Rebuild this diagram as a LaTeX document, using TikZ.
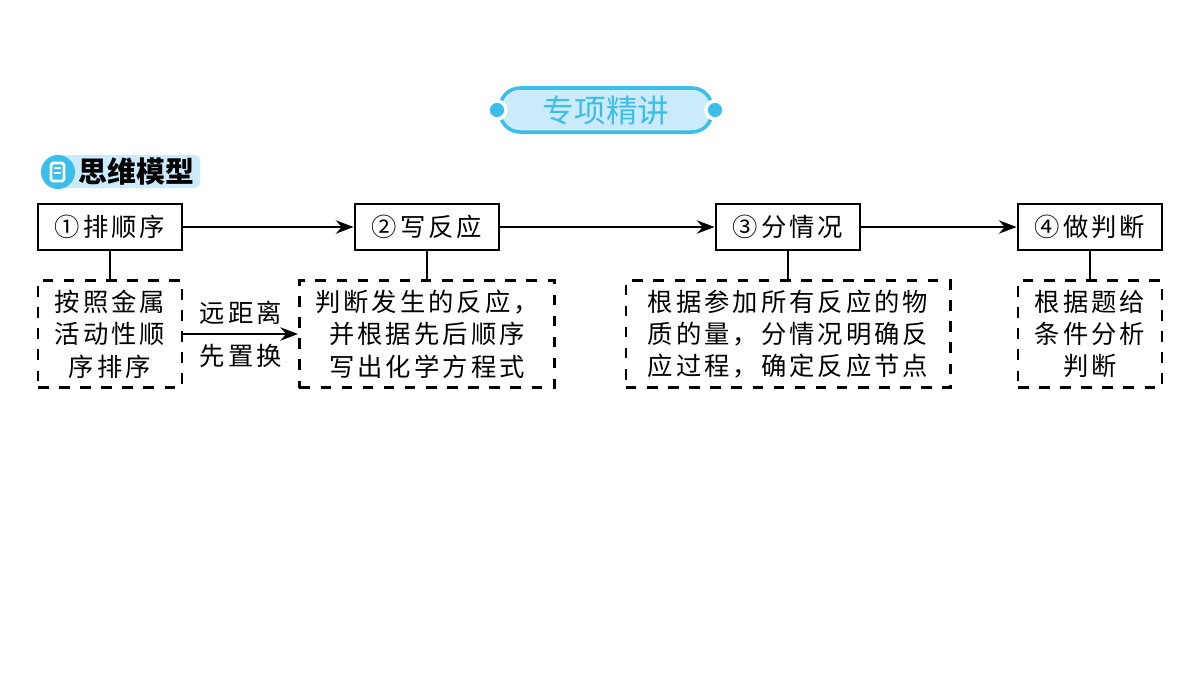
\documentclass[tikz,border=0pt]{standalone}
\usepackage{fontspec}
\setmainfont{Noto Sans CJK SC}
\usetikzlibrary{arrows.meta,positioning,calc}
\definecolor{pale}{HTML}{CCEBFA}
\definecolor{cyanline}{HTML}{3CBEEB}
\begin{document}
\begin{tikzpicture}[x=0.01cm, y=-0.01cm, font=\fontsize{7.2pt}{9.2pt}\selectfont\addfontfeature{LetterSpace=12},
    stepbox/.style={draw, thick, minimum width=1.44cm, minimum height=0.46cm, inner sep=0pt},
    note/.style={draw, thick, dashed, minimum height=1.07cm, inner sep=0pt, align=center},
    flow/.style={-{Stealth[length=5pt]}, thick}]
    \useasboundingbox (0,0) rectangle (1200,675);

    % title pill
    \draw[cyanline, fill=pale, line width=1pt, rounded corners=0.2cm] (500,88) rectangle (712,132);
    \draw[cyanline, fill=cyanline, draw=white, line width=1pt] (497,110) circle (0.09cm);
    \draw[cyanline, fill=cyanline, draw=white, line width=1pt] (715,110) circle (0.09cm);
    \node[text=cyanline, font=\fontsize{9pt}{11pt}\selectfont] (title) at (606,110) {专项精讲};

    % model tag
    \fill[pale, rounded corners=0.06cm] (50,155) rectangle (200,188);
    \fill[cyanline] (58,172) circle (0.17cm);
    \draw[white, thick, rounded corners=0.5pt] (51,163) rectangle (64,181);
    \draw[white, thick] (54,168) -- (61,168) (54,173) -- (61,173);
    \node[font=\fontsize{8.2pt}{10pt}\selectfont\bfseries, anchor=west, inner sep=0pt] (tag) at (78,171) {思维模型};

    % steps
    \node[stepbox] (s1) at (110,227) {①排顺序};
    \node[stepbox] (s2) at (427,227) {②写反应};
    \node[stepbox] (s3) at (788,227) {③分情况};
    \node[stepbox] (s4) at (1090,227) {④做判断};
    \draw[flow] (s1) -- (s2);
    \draw[flow] (s2) -- (s3);
    \draw[flow] (s3) -- (s4);

    % notes
    \node[note, minimum width=1.44cm] (n1) at (110,334) {按照金属\\活动性顺\\序排序};
    \node[note, minimum width=2.55cm] (n2) at (427,334) {判断发生的反应，\\并根据先后顺序\\写出化学方程式};
    \node[note, minimum width=3.24cm] (n3) at (788,334) {根据参加所有反应的物\\质的量，分情况明确反\\应过程，确定反应节点};
    \node[note, minimum width=1.44cm] (n4) at (1090,334) {根据题给\\条件分析\\判断};
    \foreach \i in {1,...,4} {
        \draw[thick] (s\i) -- (s\i |- n\i.north);
    }
    \draw[flow] (n1) -- node[align=center] (far) {远距离\\[3pt]先置换} (n2);
\end{tikzpicture}
\end{document}
